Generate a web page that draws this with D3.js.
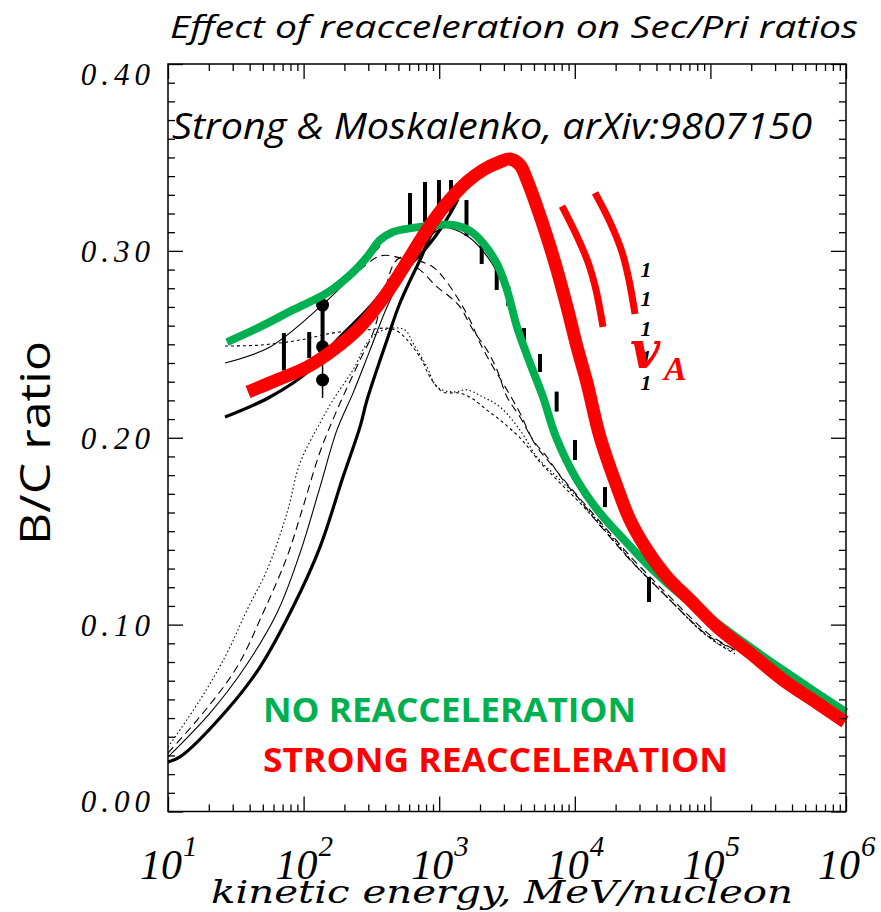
<!DOCTYPE html>
<html>
<head>
<meta charset="utf-8">
<script src="https://cdn.jsdelivr.net/npm/d3@7"></script>
<style>
  html, body { margin: 0; padding: 0; background: #fff; }
  svg { display: block; }
</style>
</head>
<body>
<svg id="chart" width="881" height="912"></svg>
<script>
// ---- axis ticks ----
const energyTicks = [1e1, 1e2, 1e3, 1e4, 1e5, 1e6];
const energyExponents = ["1", "2", "3", "4", "5", "6"];
const ratioTicks = [0.0, 0.1, 0.2, 0.3, 0.4];
const ratioTickLabels = ["0.00", "0.10", "0.20", "0.30", "0.40"];

// ---- highlighted model curves: [kinetic energy MeV/nucleon, B/C] ----
const noReacceleration = [
  [27.2, 0.2512], [47.7, 0.2593], [83.5, 0.2684], [148.8, 0.2775], [219.9, 0.2871],
  [293.5, 0.2967], [365.9, 0.3058], [456.3, 0.3101], [640.9, 0.3123], [963.4, 0.3139],
  [1264, 0.3139], [1687, 0.3107], [2104, 0.3042], [2669, 0.2930], [3162, 0.2791],
  [3747, 0.2593], [4673, 0.2400], [5829, 0.2218], [7268, 0.2004], [10380, 0.1774],
  [15340, 0.1597], [24270, 0.1437], [35850, 0.1308], [62810, 0.1148], [111900, 0.1009],
  [195900, 0.0880], [343100, 0.0757], [611100, 0.0634], [1000000, 0.0532]
];
const strongReacceleration = [
  [38.9, 0.2245], [63.6, 0.2309], [106, 0.2378], [164.7, 0.2469], [260.5, 0.2593],
  [412, 0.2775], [609, 0.2967], [812.8, 0.3112], [1141, 0.3256], [1603, 0.3369],
  [2104, 0.3433], [2808, 0.3476], [3328, 0.3492], [3944, 0.3459], [4442, 0.3379],
  [5263, 0.3234], [6237, 0.3074], [7391, 0.2898], [8759, 0.2700], [10380, 0.2486],
  [12300, 0.2293], [15340, 0.2004], [20480, 0.1737], [25530, 0.1560], [34070, 0.1400],
  [47860, 0.1255], [70720, 0.1132], [111900, 0.0988], [195900, 0.0848], [343100, 0.0704],
  [611100, 0.0581], [983100, 0.0479]
];

// ---- underlying black model curves ----
const thickModelA = [
  [10, 0.0265], [12.26, 0.0292], [27.24, 0.0543], [47.7, 0.0773], [83.5, 0.1094],
  [132.1, 0.1415], [195.2, 0.1790], [260.6, 0.2058], [293.5, 0.2202], [412.1, 0.2523],
  [513.8, 0.2721], [721.9, 0.2951], [963.4, 0.3128], [1264, 0.3134]
];
const thickModelB = [
  [26.33, 0.2111], [56.5, 0.2218], [111.5, 0.2362], [176.3, 0.2523], [293.5, 0.2684],
  [456.3, 0.2844], [721.9, 0.2978], [1067, 0.3137], [1376, 0.3276]
];
const thinSolidUpper = [
  [26.33, 0.2400], [56.5, 0.2486], [132.1, 0.2700], [202, 0.2828], [319.5, 0.2978], [365.9, 0.3026]
];
const thinSolidLower = [
  [10, 0.0292], [20.4, 0.0527], [35.74, 0.0757], [63.6, 0.1062], [94.1, 0.1383],
  [132.1, 0.1736], [176.3, 0.2042], [231.4, 0.2239], [308.9, 0.2469], [412.1, 0.2700],
  [578.7, 0.2914], [759.7, 0.3042], [1067, 0.3123], [1264, 0.3117], [1687, 0.3069],
  [2104, 0.2999], [2669, 0.2887], [3162, 0.2748], [3747, 0.2555], [4673, 0.2357],
  [5829, 0.2175], [7268, 0.1967], [10380, 0.1742], [15340, 0.1571], [25530, 0.1410],
  [42500, 0.1255], [83800, 0.1068], [151800, 0.0891]
];
const longDashLower = [
  [10, 0.0313], [18.12, 0.0527], [32.27, 0.0773], [50.2, 0.1062], [75.4, 0.1362],
  [99.0, 0.1629], [132.1, 0.1924], [176.3, 0.2148], [260.6, 0.2416], [325, 0.2561],
  [398.4, 0.2791], [472.1, 0.2941], [559.6, 0.2973], [686, 0.2951], [900.2, 0.2914],
  [1067, 0.2860], [1353, 0.2753], [1687, 0.2630], [2000, 0.2507], [2494, 0.2379],
  [3162, 0.2256], [3944, 0.2132], [4918, 0.1988], [6237, 0.1897], [8185, 0.1774],
  [10920, 0.1667], [13625, 0.1576], [18180, 0.1469], [25530, 0.1346], [35850, 0.1239],
  [50360, 0.1132], [70720, 0.1025], [99330, 0.0934], [151800, 0.0864]
];
const longDashUpper = [
  [260.6, 0.2898], [365.9, 0.2973], [513.8, 0.2962], [721.9, 0.2898], [963.4, 0.2807],
  [1201, 0.2753], [1424, 0.2700], [1776, 0.2577], [2252, 0.2469], [2669, 0.2363],
  [3162, 0.2218], [3944, 0.2111], [5263, 0.1950], [6564, 0.1865], [9217, 0.1736],
  [12945, 0.1613], [18180, 0.1490], [25530, 0.1367], [35850, 0.1255], [50360, 0.1148],
  [70720, 0.1041], [99330, 0.0944], [151800, 0.0864]
];
const dottedLower = [
  [10, 0.0345], [17.22, 0.0597], [27.24, 0.0848], [38.24, 0.1078], [53.7, 0.1292],
  [75.4, 0.1597], [94.1, 0.1865], [132.1, 0.2079], [164.8, 0.2202], [231.4, 0.2363],
  [293.5, 0.2507], [347.8, 0.2561], [456.3, 0.2587], [559.6, 0.2577], [641, 0.2507],
  [812.8, 0.2379], [963.4, 0.2272], [1264, 0.2245], [1603, 0.2256], [2104, 0.2218],
  [2808, 0.2165], [3944, 0.2041], [5263, 0.1897], [7390, 0.1790], [10380, 0.1683],
  [14580, 0.1560], [20480, 0.1437], [28750, 0.1308], [40390, 0.1201], [56720, 0.1094],
  [79660, 0.0987], [111900, 0.0902], [151800, 0.0854]
];
const shortDashUpper = [
  [26.33, 0.2491], [47.7, 0.2496], [94.1, 0.2523], [164.8, 0.2561], [283.7, 0.2577],
  [472.1, 0.2577], [721.9, 0.2432], [855.4, 0.2325], [1067, 0.2245], [1424, 0.2239],
  [1776, 0.2207], [2252, 0.2148], [2808, 0.2095], [3944, 0.1999], [5538, 0.1870],
  [7779, 0.1758], [10920, 0.1651], [15340, 0.1533], [21540, 0.1410], [30260, 0.1292],
  [42500, 0.1185], [59700, 0.1078], [83800, 0.0971], [117700, 0.0891], [151800, 0.0843]
];

// ---- measurements: energy, low, high ----
const barEnergy = [71.6, 110, 609, 786, 996, 1222, 1589, 2058, 2655, 3233, 4220, 5538, 7348, 10035, 16700, 35240];
const barLow    = [0.236, 0.2427, 0.3103, 0.3155, 0.3179, 0.3206, 0.3080, 0.2930, 0.2791, 0.2704, 0.2480, 0.2352, 0.2140, 0.1881, 0.1629, 0.1121];
const barHigh   = [0.256, 0.2566, 0.3310, 0.3369, 0.3379, 0.3379, 0.3272, 0.3069, 0.2919, 0.2812, 0.2587, 0.2448, 0.2247, 0.1988, 0.1736, 0.1255];
const pointEnergy = 138;
const pointValues = [0.2309, 0.2487, 0.2710];
const pointRange = [0.2213, 0.2764];

// ---- v_A marker arcs and curve-number column ----
const arcInner = [[8045, 0.3240], [10035, 0.3101], [12510, 0.2940], [14330, 0.2791], [16140, 0.2593]];
const arcOuter = [[14090, 0.3310], [18180, 0.3154], [22290, 0.2994], [25100, 0.2844], [27800, 0.2662]];
const curveNumberEnergy = 33500;
const curveNumberRatios = [0.2903, 0.2748, 0.2587, 0.2432, 0.2298];

const GREEN = "#00b050", RED = "#ff0000";

const svg = d3.select("#chart");
const x = d3.scaleLog().domain([1e1, 1e6]).range([168, 846]);
const y = d3.scaleLinear().domain([0, 0.4]).range([811.5, 64]);

const line = d3.line().x(d => x(d[0])).y(d => y(d[1])).curve(d3.curveCatmullRom.alpha(0.5));

function curve(data, width, color, dash, cap) {
  svg.append("path").datum(data)
    .attr("d", line)
    .attr("fill", "none")
    .attr("stroke", color)
    .attr("stroke-width", width)
    .attr("stroke-linecap", cap || "butt")
    .attr("stroke-linejoin", "round")
    .attr("stroke-dasharray", dash || null);
}

// thin model curves
curve(dottedLower, 1.1, "#000", "1.5,2.5");
curve(shortDashUpper, 1.1, "#000", "3,3");
curve(longDashLower, 1.1, "#000", "8,5");
curve(longDashUpper, 1.1, "#000", "8,5");
curve(thinSolidLower, 1.1, "#000");
curve(thinSolidUpper, 1.1, "#000");
// thick model curves
curve(thickModelA, 3.2, "#000");
curve(thickModelB, 3.2, "#000");

// measurements
const bars = barEnergy.map((e, i) => ({ e, lo: barLow[i], hi: barHigh[i] }));
svg.append("g").selectAll("line").data(bars).join("line")
  .attr("x1", d => x(d.e)).attr("x2", d => x(d.e))
  .attr("y1", d => y(d.lo)).attr("y2", d => y(d.hi))
  .attr("stroke", "#000").attr("stroke-width", 4);
svg.append("line")
  .attr("x1", x(pointEnergy)).attr("x2", x(pointEnergy))
  .attr("y1", y(pointRange[0])).attr("y2", y(pointRange[1]))
  .attr("stroke", "#000").attr("stroke-width", 1.5);
svg.append("line")
  .attr("x1", x(pointEnergy)).attr("x2", x(pointEnergy))
  .attr("y1", y(pointValues[1])).attr("y2", y(pointValues[2]))
  .attr("stroke", "#000").attr("stroke-width", 4);
svg.append("g").selectAll("circle").data(pointValues).join("circle")
  .attr("cx", x(pointEnergy)).attr("cy", d => y(d)).attr("r", 6.5).attr("fill", "#000");

// highlighted curves
curve(noReacceleration, 8, GREEN);
curve(strongReacceleration, 13, RED);
curve(arcInner, 7, RED);
curve(arcOuter, 7, RED);

// curve numbers
svg.append("g").selectAll("text").data(curveNumberRatios).join("text")
  .attr("x", x(curveNumberEnergy)).attr("y", d => y(d) + 8)
  .attr("text-anchor", "middle")
  .attr("font-family", "Liberation Serif").attr("font-style", "italic").attr("font-weight", "bold")
  .attr("font-size", 22).attr("fill", "#000")
  .text("1");

// v_A label
svg.append("text")
  .attr("x", x(25530)).attr("y", y(0.2372))
  .attr("font-family", "DejaVu Serif").attr("font-style", "italic").attr("font-weight", "bold")
  .attr("font-size", 52).attr("fill", RED).text("v");
svg.append("text")
  .attr("x", x(25530) + 34).attr("y", y(0.2372) + 12)
  .attr("font-family", "Liberation Serif").attr("font-style", "italic").attr("font-weight", "bold")
  .attr("font-size", 34).attr("fill", RED).text("A");

// frame
svg.append("rect")
  .attr("x", x(1e1)).attr("y", y(0.4))
  .attr("width", x(1e6) - x(1e1)).attr("height", y(0) - y(0.4))
  .attr("fill", "none").attr("stroke", "#000").attr("stroke-width", 1.5);

// ticks on all four sides, pointing inward
const minorX = [];
for (let dec = 1e1; dec < 1e6; dec *= 10) for (let k = 2; k <= 9; k++) minorX.push(dec * k);
const minorY = d3.range(0, 41).map(i => i / 100).filter(v => !ratioTicks.some(t => Math.abs(t - v) < 1e-9));

function ticks(axis, pos, values, size) {
  const g = svg.append("g").attr("transform", pos)
    .call(axis.tickValues(values).tickSize(-size).tickFormat(""));
  g.select(".domain").remove();
  g.selectAll(".tick line").attr("stroke", "#000").attr("stroke-width", 1.3);
}
ticks(d3.axisBottom(x), `translate(0,${y(0)})`, minorX, 7);
ticks(d3.axisBottom(x), `translate(0,${y(0)})`, energyTicks, 15);
ticks(d3.axisTop(x), `translate(0,${y(0.4)})`, minorX, 7);
ticks(d3.axisTop(x), `translate(0,${y(0.4)})`, energyTicks, 15);
ticks(d3.axisLeft(y), `translate(${x(1e1)},0)`, minorY, 7);
ticks(d3.axisLeft(y), `translate(${x(1e1)},0)`, ratioTicks, 15);
ticks(d3.axisRight(y), `translate(${x(1e6)},0)`, minorY, 7);
ticks(d3.axisRight(y), `translate(${x(1e6)},0)`, ratioTicks, 15);

// y tick labels (end ones pulled inside the frame)
ratioTicks.forEach((t, i) => {
  let cy = y(t);
  if (i === 0) cy -= 11;
  if (i === ratioTicks.length - 1) cy += 10;
  svg.append("text")
    .attr("x", 155).attr("y", cy + 11)
    .attr("text-anchor", "end")
    .attr("font-family", "Liberation Serif").attr("font-style", "italic")
    .attr("font-size", 31).attr("letter-spacing", 5).attr("fill", "#000")
    .text(ratioTickLabels[i]);
});

// x tick labels: 10^n
energyTicks.forEach((t, i) => {
  const cx = x(t);
  svg.append("text")
    .attr("x", cx - 28).attr("y", 879)
    .attr("font-family", "Liberation Serif").attr("font-style", "italic")
    .attr("font-size", 42).attr("fill", "#000").text("10");
  svg.append("text")
    .attr("x", cx + 15).attr("y", 856)
    .attr("font-family", "Liberation Serif").attr("font-style", "italic")
    .attr("font-size", 29).attr("fill", "#000").text(energyExponents[i]);
});

// axis titles
svg.append("text")
  .attr("x", 502).attr("y", 903)
  .attr("text-anchor", "middle")
  .attr("font-family", "DejaVu Serif").attr("font-style", "italic")
  .attr("font-size", 31).attr("textLength", 582).attr("lengthAdjust", "spacingAndGlyphs")
  .attr("fill", "#000").text("kinetic energy, MeV/nucleon");
svg.append("text")
  .attr("transform", "translate(50,443) rotate(-90)")
  .attr("text-anchor", "middle")
  .attr("font-family", "Open Sans").attr("font-size", 42)
  .attr("textLength", 204).attr("lengthAdjust", "spacingAndGlyphs")
  .attr("fill", "#000").text("B/C ratio");

// titles and legend text
svg.append("text")
  .attr("x", 170).attr("y", 38)
  .attr("font-family", "Open Sans").attr("font-style", "italic").attr("font-size", 31)
  .attr("textLength", 688).attr("lengthAdjust", "spacingAndGlyphs")
  .attr("fill", "#000").text("Effect of reacceleration on Sec/Pri ratios");
svg.append("text")
  .attr("x", 172).attr("y", 139)
  .attr("font-family", "Open Sans").attr("font-style", "italic").attr("font-size", 36)
  .attr("textLength", 640).attr("lengthAdjust", "spacingAndGlyphs")
  .attr("fill", "#000").text("Strong & Moskalenko, arXiv:9807150");
svg.append("text")
  .attr("x", 263).attr("y", 722)
  .attr("font-family", "Open Sans").attr("font-weight", "bold").attr("font-size", 34)
  .attr("textLength", 373).attr("lengthAdjust", "spacingAndGlyphs")
  .attr("fill", GREEN).text("NO REACCELERATION");
svg.append("text")
  .attr("x", 263).attr("y", 772)
  .attr("font-family", "Open Sans").attr("font-weight", "bold").attr("font-size", 34)
  .attr("textLength", 465).attr("lengthAdjust", "spacingAndGlyphs")
  .attr("fill", RED).text("STRONG REACCELERATION");
</script>
</body>
</html>
